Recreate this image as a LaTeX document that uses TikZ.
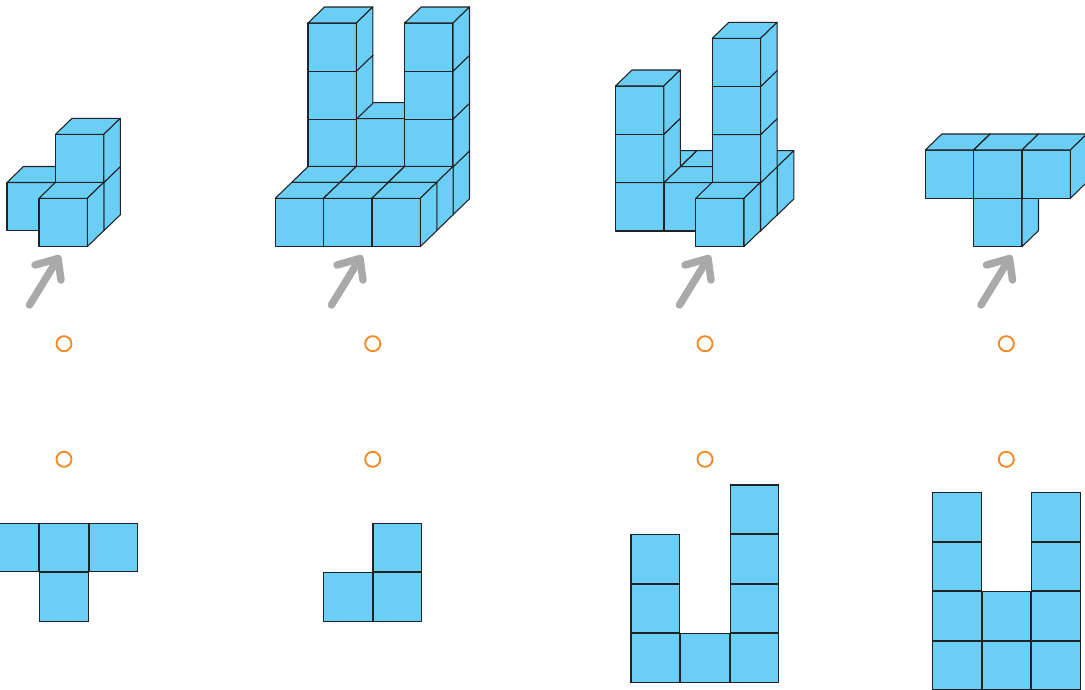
\documentclass[tikz,border=0pt]{standalone}
\definecolor{cubeblue}{HTML}{6BCEF7}
\definecolor{edge}{HTML}{222222}
\definecolor{arrowgray}{HTML}{A9A9A9}
\definecolor{optring}{HTML}{F58A24}
\newcommand{\cubeat}[2]{%
  \draw[cubeface] (#1,#2) rectangle ++(48.3,48.3);
  \draw[cubeface] (#1,#2) -- ++(16.5,-16) -- ++(48.3,0) -- ++(-16.5,16) -- cycle;
  \draw[cubeface] (#1+48.3,#2) -- ++(16.5,-16) -- ++(0,48.3) -- ++(-16.5,16) -- cycle;
}
\newcommand{\pointer}[1]{%
  \draw[pointerline] (#1+29.5,305) -- (#1+58,258.5);
  \draw[pointerline] (#1+35,265) -- (#1+58,258.5) -- (#1+61,280);
}
\tikzset{
  cubeface/.style={fill=cubeblue,draw=edge,line width=0.8pt,line join=round},
  pointerline/.style={draw=arrowgray,line width=5.6pt,line cap=round,line join=round},
  ring/.style={circle,draw=optring,line width=1.4pt,fill=white,minimum size=11.3pt,inner sep=0pt,outer sep=0pt},
  tile/.style={rectangle,anchor=north west,fill=cubeblue,draw=edge,line width=0.8pt,minimum size=36.3pt,inner sep=0pt,outer sep=0pt}
}
\begin{document}
\begin{tikzpicture}[x=0.75pt,y=-0.75pt]
\path[use as bounding box,clip] (0,0) rectangle (1085,689);
\fill[white] (0,0) rectangle (1085,689);

% figure 1
\cubeat{7}{182.5}
\cubeat{55.5}{182.5}
\cubeat{55.5}{134.3}
\cubeat{39}{198.3}

% figure 2
\cubeat{308}{166.5}\cubeat{356.3}{166.5}\cubeat{404.7}{166.5}
\cubeat{308}{118.7}\cubeat{356.3}{118.7}\cubeat{404.7}{118.7}
\cubeat{308}{71}\cubeat{404.7}{71}
\cubeat{308}{23}\cubeat{404.7}{23}
\cubeat{291.8}{182.3}\cubeat{340}{182.3}\cubeat{388.4}{182.3}
\cubeat{275.3}{198.3}\cubeat{323.6}{198.3}\cubeat{372}{198.3}

% figure 3
\cubeat{632}{166.7}\cubeat{680.5}{166.7}\cubeat{729}{166.7}
\cubeat{615.5}{182.7}\cubeat{664}{182.7}\cubeat{712.3}{182.7}
\cubeat{615.5}{134.4}\cubeat{615.5}{86}
\cubeat{712.3}{134.5}\cubeat{712.3}{86.4}\cubeat{712.3}{38.3}
\cubeat{695.7}{198.3}

% figure 4
\cubeat{973.7}{198.3}
\cubeat{925.3}{150}\cubeat{973.7}{150}\cubeat{1022}{150}

% pointers
\pointer{0}
\pointer{302}
\pointer{650}
\pointer{951.5}

% option rings
\node[ring] (r1) at (64,343.7) {};
\node[ring] (r2) at (372.7,343.7) {};
\node[ring] (r3) at (705,343.7) {};
\node[ring] (r4) at (1006.3,343.7) {};
\node[ring] (s1) at (64,459.3) {};
\node[ring] (s2) at (372.7,459.3) {};
\node[ring] (s3) at (705,459.3) {};
\node[ring] (s4) at (1006.3,459.3) {};

% view A
\node[tile] (a1) at (-9.5,523.3) {};
\node[tile] (a2) at (39.8,523.3) {};
\node[tile] (a3) at (89.5,523.3) {};
\node[tile] (a4) at (39.8,572.7) {};

% view B
\node[tile] (b1) at (373,523.3) {};
\node[tile] (b2) at (323.7,572.7) {};
\node[tile] (b3) at (373,572.7) {};

% view C
\node[tile] (c1) at (730.3,485) {};
\node[tile] (c2) at (631,534.7) {};
\node[tile] (c3) at (730.3,534.7) {};
\node[tile] (c4) at (631,584) {};
\node[tile] (c5) at (730.3,584) {};
\node[tile] (c6) at (631,633.7) {};
\node[tile] (c7) at (680.7,633.7) {};
\node[tile] (c8) at (730.3,633.7) {};

% view D
\node[tile] (d1) at (932.7,492.7) {};
\node[tile] (d2) at (1031.7,492.7) {};
\node[tile] (d3) at (932.7,542) {};
\node[tile] (d4) at (1031.7,542) {};
\node[tile] (d5) at (932.7,591.7) {};
\node[tile] (d6) at (982,591.7) {};
\node[tile] (d7) at (1031.7,591.7) {};
\node[tile] (d8) at (932.7,641) {};
\node[tile] (d9) at (982,641) {};
\node[tile] (d10) at (1031.7,641) {};
\end{tikzpicture}
\end{document}
